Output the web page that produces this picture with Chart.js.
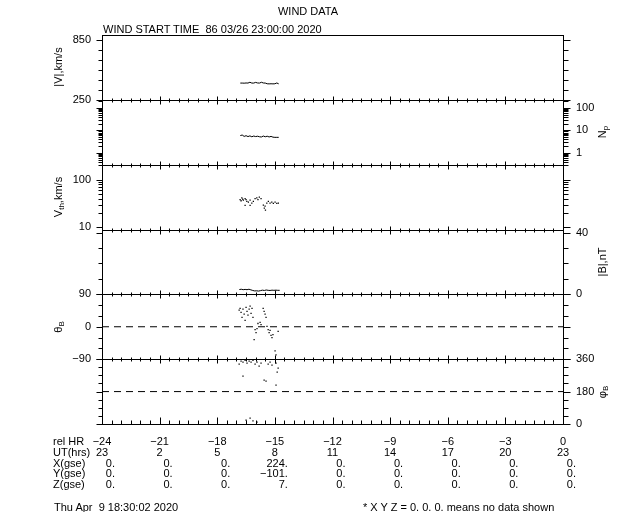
<!DOCTYPE html>
<html>
<head>
<meta charset="utf-8">
<script src="https://cdn.jsdelivr.net/npm/chart.js@4"></script>
<style>
  body { margin: 0; background: #fff; }
  #wrap { position: relative; width: 640px; height: 512px; font: 11px "Liberation Sans", sans-serif; color: #000; }
  .t { position: absolute; white-space: pre; line-height: 12px; }
  .rot { position: absolute; white-space: pre; line-height: 12px; transform: translate(-50%, -50%) rotate(-90deg); }
  sub { font-size: 8px; vertical-align: -2px; line-height: 0; }
</style>
</head>
<body>
<div id="wrap"><canvas id="c" width="640" height="512"></canvas></div>
<script>
// plasma (|V| and Np), hours relative to end time
const plasmaHr = [-16.8, -16.7, -16.6, -16.5, -16.4, -16.3, -16.2, -16.1, -16.0, -15.9, -15.8, -15.7, -15.6, -15.5, -15.4, -15.3, -15.2, -15.1, -15.0, -14.9, -14.8];
const speed = [418, 418, 417, 419, 418, 426, 418, 418, 425, 419, 418, 426, 419, 418, 411, 410, 411, 410, 411, 419, 410];
const density = [5.9, 6.2, 5.4, 5.8, 5.3, 5.7, 5.2, 5.6, 5.3, 5.5, 5.2, 5.1, 5.6, 5.2, 5.5, 5.1, 5.4, 5.0, 4.9, 4.9, 4.9];

// thermal speed
const vthHr = [-16.81, -16.76, -16.72, -16.68, -16.64, -16.55, -16.50, -16.46, -16.38, -16.29, -16.20, -16.12, -16.03, -15.94, -15.88, -15.81, -15.72, -16.55, -16.29, -15.60, -15.51, -15.55, -15.49, -15.42, -15.34, -15.25, -15.16, -15.08, -14.99, -14.90, -14.82];
const vthData = [38, 36, 41.5, 39, 37, 40, 38, 35, 33.6, 37, 32, 35, 40, 41.5, 38, 42.7, 40, 28.7, 28.7, 29.3, 27.9, 25.2, 23, 32, 35, 32, 33.6, 31.6, 33.6, 31.6, 32];

// magnetic field magnitude
const magHr = [-16.85, -16.75, -16.65, -16.55, -16.45, -16.35, -16.25, -16.15, -16.05, -15.95, -15.85, -15.75, -15.65, -15.55, -15.45, -15.35, -15.25, -15.15, -15.05, -14.95, -14.85, -14.75];
const bData = [3.1, 3.3, 3.0, 3.2, 3.0, 3.3, 2.9, 2.5, 2.2, 2.3, 2.1, 2.4, 2.7, 2.5, 2.8, 2.6, 2.5, 2.7, 2.6, 2.7, 2.6, 2.6];

// field latitude theta_B
const thHr = [-16.86, -16.81, -16.76, -16.71, -16.66, -16.60, -16.55, -16.50, -16.45, -16.40, -16.34, -16.29, -16.24, -16.19, -16.14, -15.61, -15.56, -15.51, -15.46, -15.88, -15.77, -15.72, -16.03, -15.98, -15.93, -16.08, -15.41, -15.35, -15.30, -15.25, -15.20, -15.15, -15.10, -14.83, -14.99, -14.94];
const thData = [46, 51, 40, 26, 49, 35, 18, 54, 43, 32, 49, 57, 37, 51, 26, 51, 43, 35, 26, 9, 12, 6, -8, -16, -5, -36, 1, -8, -16, -10, -24, -30, -22, -13, -67, -78];

// field longitude phi_B
const phHr = [-16.86, -16.76, -16.66, -16.55, -16.45, -16.34, -16.24, -16.14, -16.03, -15.93, -15.82, -15.72, -15.35, -15.25, -15.15, -14.94, -14.83, -14.88, -16.66, -15.56, -15.46, -14.94, -16.50, -16.29, -16.14, -15.93];
const phData = [332, 349, 343, 354, 338, 349, 343, 354, 332, 343, 321, 338, 332, 343, 327, 338, 310, 288, 266, 244, 238, 216, 22, 33, 17, 11];

// reference lines
const refHr = [-24, 0];
const thRef = [0, 0];
const phRef = [180, 180];

// y tick marks and labelled values per panel
const vTicks = [250, 350, 450, 550, 650, 750, 850];
const vLabels = [250, 850];
const nTicks = [0.4, 0.5, 0.6, 0.7, 0.8, 0.9, 1, 2, 3, 4, 5, 6, 7, 8, 9, 10, 20, 30, 40, 50, 60, 70, 80, 90, 100, 200];
const nLabels = [1, 10, 100];
const tTicks = [10, 20, 30, 40, 50, 60, 70, 80, 90, 100, 200];
const tLabels = [10, 100];
const bTicks = [0, 10, 20, 30, 40];
const bLabels = [0, 40];
const thTicks = [-90, -60, -30, 0, 30, 60, 90];
const thLabels = [-90, 0, 90];
const phTicks = [0, 45, 90, 135, 180, 225, 270, 315, 360];
const phLabels = [0, 180, 360];

// bottom table
const relHr = [-24, -21, -18, -15, -12, -9, -6, -3, 0];
const utHrs = [23, 2, 5, 8, 11, 14, 17, 20, 23];
const xGse = [0, 0, 0, 224, 0, 0, 0, 0, 0];
const yGse = [0, 0, 0, -101, 0, 0, 0, 0, 0];
const zGse = [0, 0, 0, 7, 0, 0, 0, 0, 0];

const fmt = v => (v < 0 ? '\u2212' + Math.abs(v) : String(v));
const pts = (xs, ys) => xs.map((x, i) => ({ x, y: ys[i] }));

const panels = [
  { id: 'v', type: 'linear', min: 250, max: 900, ticks: vTicks, labels: vLabels, side: 'L', title: '|V|,km/s' },
  { id: 'n', type: 'logarithmic', min: 0.34, max: 227, ticks: nTicks, labels: nLabels, side: 'R', title: 'N<sub>p</sub>' },
  { id: 't', type: 'logarithmic', min: 9, max: 205, ticks: tTicks, labels: tLabels, side: 'L', title: 'V<sub>th</sub>,km/s' },
  { id: 'b', type: 'linear', min: 0, max: 42, ticks: bTicks, labels: bLabels, side: 'R', title: '|B|,nT' },
  { id: 'a', type: 'linear', min: -90, max: 90, ticks: thTicks, labels: thLabels, side: 'L', title: '\u03B8<sub>B</sub>' },
  { id: 'p', type: 'linear', min: 0, max: 360, ticks: phTicks, labels: phLabels, side: 'R', title: '\u03C6<sub>B</sub>' }
];

const font = { family: 'Liberation Sans', size: 11 };
const scales = {
  x: { type: 'linear', min: -24, max: 0, display: false, ticks: { stepSize: 0.5, autoSkip: false } }
};
panels.forEach((p, i) => {
  ['L', 'R'].forEach(side => {
    scales[side + p.id] = {
      type: p.type, min: p.min, max: p.max,
      position: side === 'L' ? 'left' : 'right',
      stack: side, stackWeight: 1,
      weight: side === 'L' ? 10 - i : i + 1,
      grid: { display: false, drawTicks: false },
      border: { display: false },
      ticks: {
        display: side === p.side, autoSkip: false, color: '#000', font: font,
        padding: side === 'L' ? 11 : 13,
        callback: v => fmt(v)
      },
      afterBuildTicks: s => { s.ticks = p.labels.map(v => ({ value: v })); },
      afterFit: s => { s.width = side === 'L' ? 102 : 77; }
    };
  });
});

// frame, tick marks on both y sides and x ticks on every panel edge
const framePlugin = {
  id: 'frame',
  afterDraw(chart) {
    const { ctx, chartArea: a } = chart;
    const xs = chart.scales.x;
    const L = Math.round(a.left) + 0.5, R = Math.round(a.right) + 0.5;
    const seg = (x1, y1, x2, y2) => { ctx.beginPath(); ctx.moveTo(x1, y1); ctx.lineTo(x2, y2); ctx.stroke(); };
    ctx.save();
    ctx.strokeStyle = '#000';
    ctx.lineWidth = 1;
    panels.forEach((p, i) => {
      const s = chart.scales['L' + p.id];
      const top = Math.round(s.top) + 0.5, bot = Math.round(s.bottom) + 0.5;
      ctx.strokeRect(L, top, R - L, bot - top);
      p.ticks.forEach(v => {
        const y = Math.round(s.getPixelForValue(v)) + 0.5;
        const major = p.labels.includes(v);
        seg(L - (major ? 6 : 4), y, L, y);
        seg(R, y, R + (major ? 7 : 5), y);
      });
      const last = i === panels.length - 1;
      xs.ticks.forEach(t => {
        const x = Math.round(xs.getPixelForValue(t.value)) + 0.5;
        const major = Math.abs(t.value % 3) < 1e-6;
        if (last) seg(x, bot, x, bot - (major ? 7 : 4));
        else seg(x, bot - (major ? 4 : 2), x, bot + (major ? 4 : 2));
      });
    });
    ctx.restore();
  }
};

const line = (data, axis, extra) => Object.assign({
  data, yAxisID: 'L' + axis, showLine: true, borderColor: '#000', borderWidth: 1, pointRadius: 0
}, extra || {});
const dots = (data, axis) => ({
  data, yAxisID: 'L' + axis, showLine: false, pointRadius: 0.9, pointBorderWidth: 0,
  pointBackgroundColor: '#000', pointStyle: 'rect'
});

const chart = new Chart(document.getElementById('c'), {
  type: 'scatter',
  data: {
    datasets: [
      line(pts(plasmaHr, speed), 'v'),
      line(pts(plasmaHr, density), 'n'),
      dots(pts(vthHr, vthData), 't'),
      line(pts(magHr, bData), 'b'),
      line(pts(refHr, thRef), 'a', { borderDash: [7, 5] }),
      dots(pts(thHr, thData), 'a'),
      line(pts(refHr, phRef), 'p', { borderDash: [7, 5] }),
      dots(pts(phHr, phData), 'p')
    ]
  },
  options: {
    responsive: false,
    animation: false,
    devicePixelRatio: 1,
    layout: { padding: { top: 35, bottom: 88, left: 0, right: 0 } },
    scales: scales,
    plugins: { legend: { display: false }, tooltip: { enabled: false } }
  },
  plugins: [framePlugin]
});

// texts around the chart
const wrap = document.getElementById('wrap');
function put(html, x, y, align, cls) {
  const d = document.createElement('div');
  d.className = cls || 't';
  d.innerHTML = html;
  d.style.left = x + 'px';
  d.style.top = y + 'px';
  if (!cls) {
    const tx = align === 'center' ? '-50%' : align === 'right' ? '-100%' : '0';
    d.style.transform = 'translate(' + tx + ', -50%)';
  }
  wrap.appendChild(d);
}

put('WIND DATA', 308, 11, 'center');
put('WIND START TIME  86 03/26 23:00:00 2020', 103, 29, 'left');

panels.forEach(p => {
  const s = chart.scales['L' + p.id];
  const cy = (s.top + s.bottom) / 2;
  put(p.title, p.side === 'L' ? 58 : 602, cy, 'center', 'rot');
});

const xs = chart.scales.x;
const rows = [
  ['rel HR', relHr, v => fmt(v), 'center'],
  ['UT(hrs)', utHrs, v => String(v), 'center'],
  ['X(gse)', xGse, v => fmt(v) + '.', 'right'],
  ['Y(gse)', yGse, v => fmt(v) + '.', 'right'],
  ['Z(gse)', zGse, v => fmt(v) + '.', 'right']
];
rows.forEach((r, i) => {
  const y = 441 + i * 10.8;
  put(r[0], 53, y, 'left');
  r[1].forEach((v, j) => {
    const x = xs.getPixelForValue(relHr[j]);
    put(r[2](v), r[3] === 'right' ? x + 13 : x, y, r[3]);
  });
});

put('Thu Apr  9 18:30:02 2020', 54, 507, 'left');
put('* X Y Z = 0. 0. 0. means no data shown', 363, 507, 'left');
</script>
</body>
</html>
